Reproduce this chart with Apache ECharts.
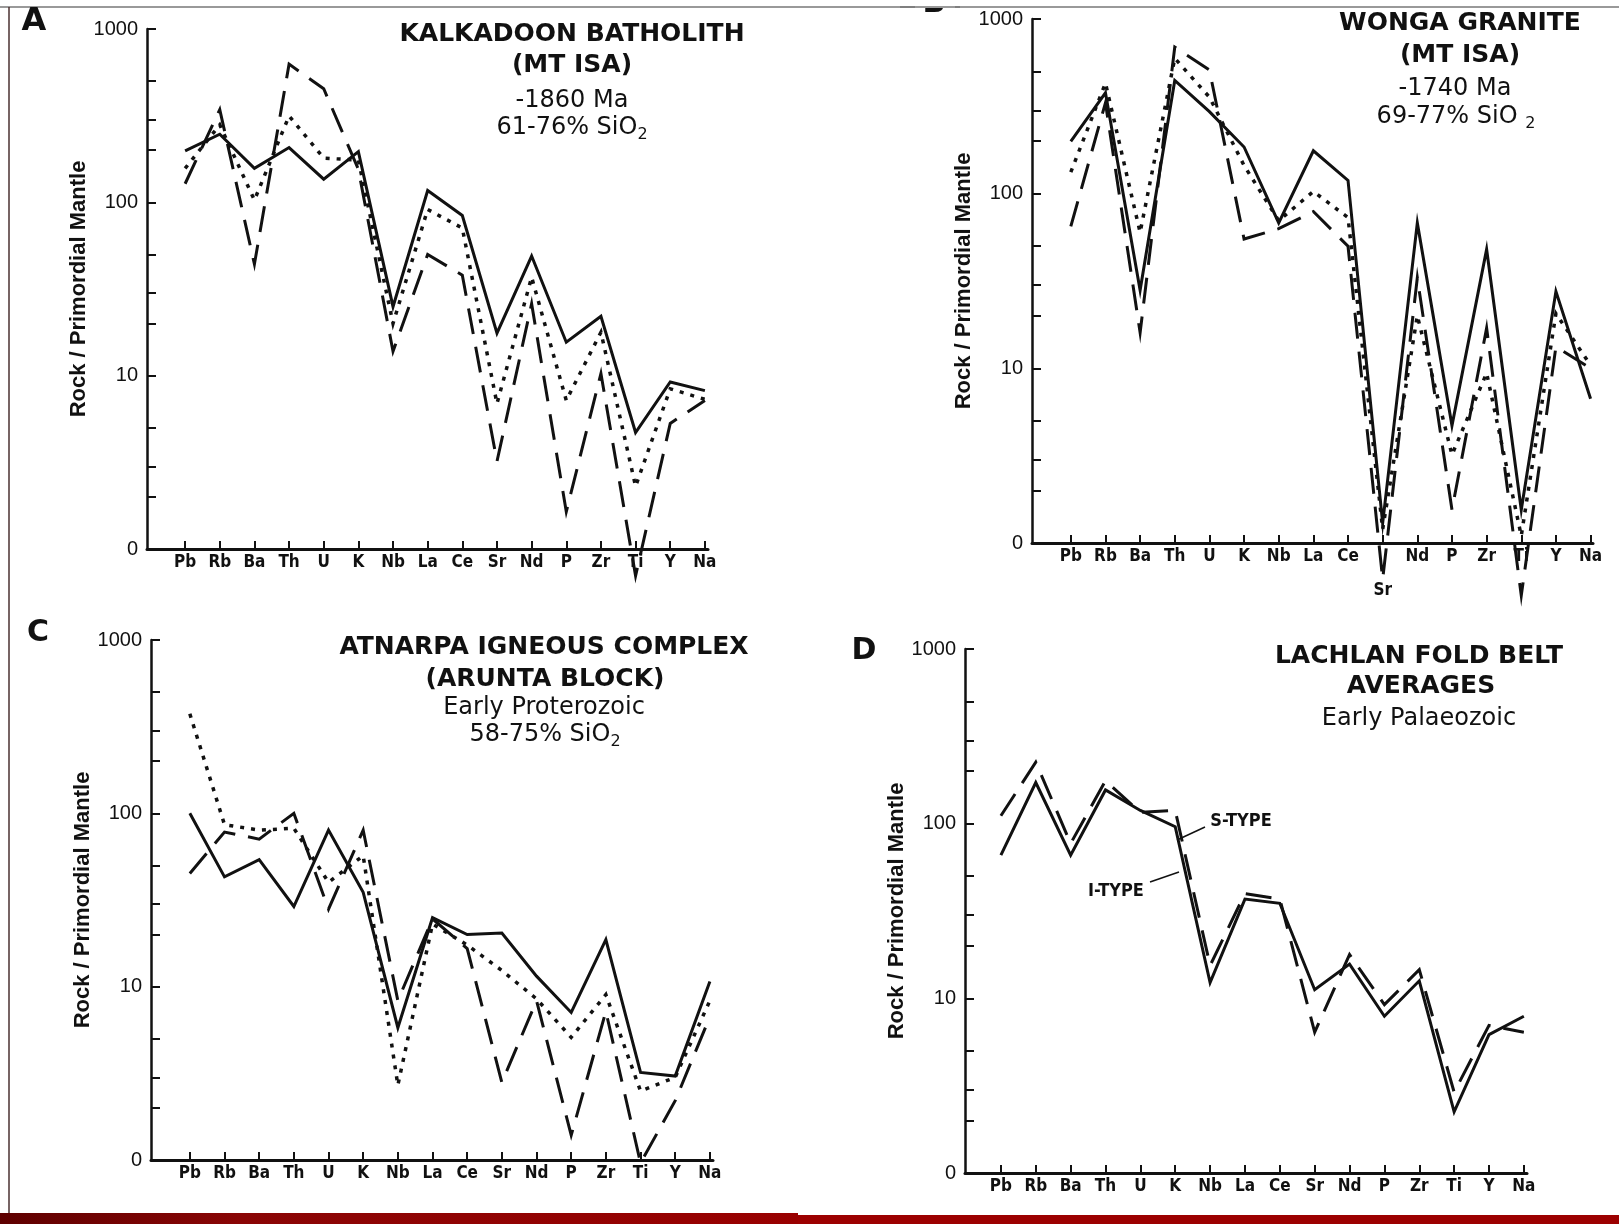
<!DOCTYPE html>
<html>
<head>
<meta charset="utf-8">
<script src="https://cdn.jsdelivr.net/npm/echarts@6/dist/echarts.min.js"></script>
<style>
html,body{margin:0;padding:0;background:#fff;}
#c{width:1619px;height:1224px;}
</style>
</head>
<body>
<div id="c"></div>
<script>
// ---- data ----
const categories = ['Pb','Rb','Ba','Th','U','K','Nb','La','Ce','Sr','Nd','P','Zr','Ti','Y','Na'];
const yTickValues = [1,2,3,5,10,20,30,50,100,200,300,500,1000];
const yLabelValues = [1,10,100,1000];
const yAxisName = 'Rock / Primordial Mantle';

// Panel A: Kalkadoon Batholith
const aSolid  = [198,247,157,207,136,196,25,117,84,17.6,49,15.6,22,4.7,9.2,8.2];
const aDotted = [157,280,103,315,180,175,20,91,71,6.9,37,7.2,17.8,2.3,8.4,7.3];
const aDashed = [128,343,44,627,452,155,13.8,50,38,3.2,26,1.64,10.3,0.7,5.3,7.2];
// Panel B: Wonga Granite
const bSolid  = [199,378,28,445,295,185,68,176,119,1.3,68,4.7,48,1.55,27.6,6.7];
const bDotted = [133,430,60,596,357,145,70,103,73,1.2,20,3.2,9.4,1.1,20.6,10.4];
const bDashed = [65,331,16,690,510,55,63,79,50,0.62,33,1.55,17,0.5,13.3,10];
// Panel C: Atnarpa Igneous Complex
const cSolid  = [100,43,54,29,80,35,5.8,25,20,20.4,11.5,7.1,18.7,3.2,3.05,10.7];
const cDotted = [375,86,80,82,40,57,2.7,23,17.4,12.4,8.5,5.1,9.0,2.5,3.0,8.3];
const cDashed = [45,78,71,100,28,80,8.3,24.6,16.6,2.8,8.3,1.39,7.2,0.96,2.2,6.7];
// Panel D: Lachlan Fold Belt averages
const dIType = [66,172,66,156,119,96,12.3,37,35,11.2,15.7,7.9,12.6,2.24,6.2,7.9];
const dSType = [111,225,77,176,116,119,15.4,39.8,37,6.4,17.8,9.2,14.6,2.9,7.0,6.4];

// ---- styling ----
const INK = '#111';
const condFont = "'Liberation Sans Narrow','DejaVu Sans Condensed','Arial Narrow',sans-serif";
const titleFont = "'DejaVu Sans',sans-serif";
const idx = categories.map((c,i)=>i);

const grids = [
  {left:147, top:29, width:561, height:520, xmin:-1.10, xmax:15.09},
  {left:1032, top:19, width:561, height:524, xmin:-1.12, xmax:15.07},
  {left:151, top:640, width:562, height:520, xmin:-1.12, xmax:15.09},
  {left:965, top:649, width:562, height:524, xmin:-1.03, xmax:15.09}
];

function xAxisFor(gi){
  const g = grids[gi];
  return {
    type:'value', gridIndex:gi, min:g.xmin, max:g.xmax,
    axisLine:{show:true, onZero:false, lineStyle:{color:INK, width:3}},
    axisTick:{show:true, inside:true, length:8, customValues:idx, lineStyle:{color:INK, width:2}},
    axisLabel:{
      customValues:idx, margin:5, color:INK, fontFamily:condFont, fontWeight:'bold', fontSize:17,
      formatter:function(v){
        const c = categories[Math.round(v)] || '';
        if (gi===1 && c==='Sr') return '{lo|Sr}';
        return c;
      },
      rich:{lo:{padding:[34,0,0,0], fontFamily:condFont, fontWeight:'bold', fontSize:17, color:INK}}
    },
    splitLine:{show:false}
  };
}
function yAxisFor(gi){
  return {
    type:'log', logBase:10, gridIndex:gi, min:1, max:1000,
    axisLine:{show:true, onZero:false, lineStyle:{color:INK, width:2.5}},
    axisTick:{show:true, inside:true, length:9, customValues:yTickValues, lineStyle:{color:INK, width:2}},
    axisLabel:{customValues:yLabelValues, margin:9, color:INK, fontFamily:"'Liberation Sans',Arial,sans-serif", fontSize:20,
      formatter:function(v){ return v===1 ? '0' : String(Math.round(v)); }},
    minorTick:{show:false},
    splitLine:{show:false},
    name:yAxisName, nameLocation:'middle', nameGap:55,
    nameTextStyle:{color:INK, fontFamily:"'Liberation Sans',Arial,sans-serif", fontWeight:'bold', fontSize:22}
  };
}

const solidStyle  = {color:INK, width:3, type:'solid', join:'miter', miterLimit:12};
const dottedStyle = {color:INK, width:3.5, type:[4,7], cap:'butt', join:'miter'};
const dashedStyle = {color:INK, width:3, type:[26,13], cap:'butt', join:'miter', miterLimit:12};

function line(name, gi, arr, style){
  return {
    name:name, type:'line', xAxisIndex:gi, yAxisIndex:gi,
    data: arr.map((v,i)=>[i,v]),
    showSymbol:false, symbol:'none', clip:false, silent:true, animation:false,
    lineStyle:style
  };
}

const series = [
  line('A solid',0,aSolid,solidStyle), line('A dotted',0,aDotted,dottedStyle), line('A dashed',0,aDashed,dashedStyle),
  line('B solid',1,bSolid,solidStyle), line('B dotted',1,bDotted,dottedStyle), line('B dashed',1,bDashed,dashedStyle),
  line('C solid',2,cSolid,solidStyle), line('C dotted',2,cDotted,dottedStyle), line('C dashed',2,cDashed,dashedStyle),
  line('I-TYPE',3,dIType,solidStyle), line('S-TYPE',3,dSType,dashedStyle)
];

function txt(x,y,text,font,extra){
  const st = Object.assign({text:text, fill:INK, font:font, align:'center', verticalAlign:'middle'}, extra||{});
  return {type:'text', x:x, y:y, z:50, silent:true, style:st};
}
const subRich = {s:{font:"16px 'DejaVu Sans',sans-serif", fill:INK, padding:[14,0,0,0]}};
const B25 = "bold 25px " + titleFont;
const R24 = "24px " + titleFont;

const graphics = [
  // scan frame
  {type:'line', z:1, silent:true, shape:{x1:0,y1:7,x2:1619,y2:7}, style:{stroke:'#777', lineWidth:1.5}},
  {type:'line', z:1, silent:true, shape:{x1:9,y1:7,x2:9,y2:1214}, style:{stroke:'#4a3030', lineWidth:1.5}},
  {type:'rect', z:1, silent:true, shape:{x:0,y:1213,width:798,height:11},
    style:{fill:{type:'linear',x:0,y:0,x2:1,y2:0,colorStops:[{offset:0,color:'#5e0000'},{offset:0.3,color:'#8a0505'},{offset:1,color:'#990000'}]}}},
  {type:'rect', z:1, silent:true, shape:{x:798,y:1215,width:821,height:9}, style:{fill:'#9c0000'}},
  // panel letters
  txt(34,22,'A',"bold 32px "+titleFont),
  txt(934,4,'B',"bold 30px "+titleFont),
  {type:'rect', z:60, silent:true, shape:{x:915,y:0,width:40,height:8}, style:{fill:'#fff'}},
  {type:'line', z:61, silent:true, shape:{x1:900,y1:7,x2:960,y2:7}, style:{stroke:'#777', lineWidth:1.5}},
  txt(38,633,'C',"bold 30px "+titleFont),
  txt(864,651,'D',"bold 30px "+titleFont),
  // Panel A titles
  txt(572,34,'KALKADOON BATHOLITH',B25),
  txt(572,65,'(MT ISA)',B25),
  txt(572,101,'-1860 Ma',R24),
  txt(572,128,'61-76% SiO{s|2}',R24,{rich:subRich}),
  // Panel B titles
  txt(1460,23,'WONGA GRANITE',B25),
  txt(1460,55,'(MT ISA)',B25),
  txt(1455,89,'-1740 Ma',R24),
  txt(1456,117,'69-77% SiO {s|2}',R24,{rich:subRich}),
  // Panel C titles
  txt(544,647,'ATNARPA IGNEOUS COMPLEX',B25),
  txt(545,679,'(ARUNTA BLOCK)',B25),
  txt(544,708,'Early Proterozoic',R24),
  txt(545,735,'58-75% SiO{s|2}',R24,{rich:subRich}),
  // Panel D titles
  txt(1419,656,'LACHLAN FOLD BELT',B25),
  txt(1421,686,'AVERAGES',B25),
  txt(1419,719,'Early Palaeozoic',R24),
  // D annotations
  txt(1241,821,'S-TYPE',"bold 18px "+condFont),
  txt(1116,891,'I-TYPE',"bold 18px "+condFont),
  {type:'line', z:50, silent:true, shape:{x1:1205,y1:827,x2:1177,y2:840}, style:{stroke:INK, lineWidth:1.5}},
  {type:'line', z:50, silent:true, shape:{x1:1150,y1:882,x2:1179,y2:872}, style:{stroke:INK, lineWidth:1.5}}
];

const option = {
  backgroundColor:'#fff',
  animation:false,
  grid: grids.map(g=>({left:g.left, top:g.top, width:g.width, height:g.height, containLabel:false})),
  xAxis: [0,1,2,3].map(xAxisFor),
  yAxis: [0,1,2,3].map(yAxisFor),
  series: series,
  graphic: graphics
};

const chart = echarts.init(document.getElementById('c'), null, {renderer:'canvas', width:1619, height:1224});
chart.setOption(option);
</script>
</body>
</html>
